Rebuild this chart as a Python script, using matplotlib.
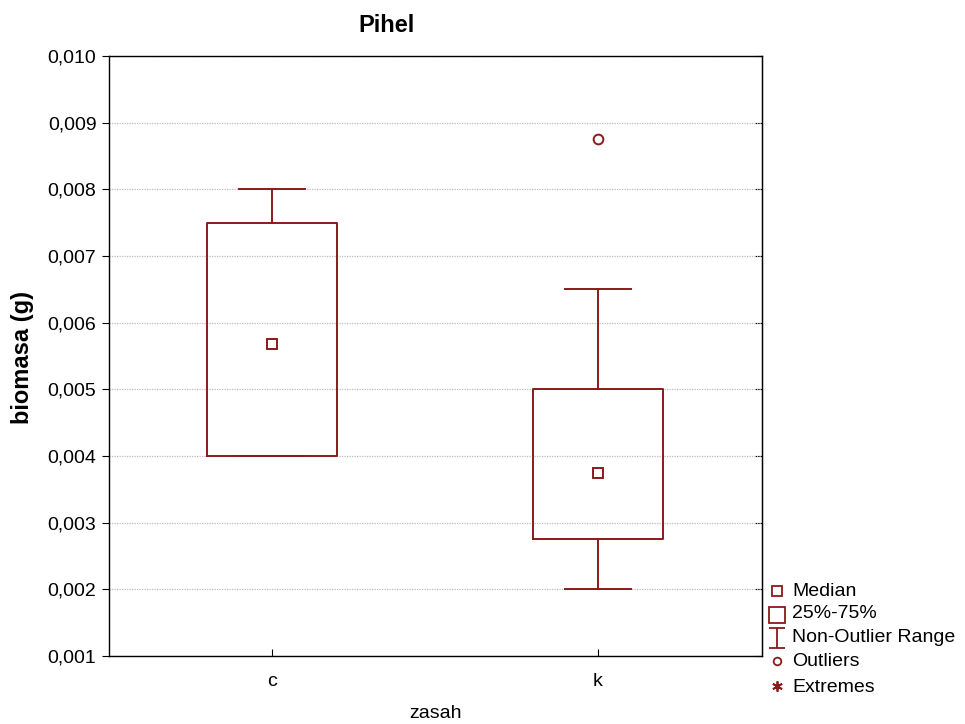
import matplotlib
matplotlib.use("Agg")
import matplotlib.pyplot as plt
from matplotlib.path import Path
from matplotlib.lines import Line2D
import numpy as np

plt.rcParams['font.family'] = ['Liberation Sans', 'DejaVu Sans']

# ---- data ----
categories = ["c", "k"]
medians = [0.00568, 0.00375]
q1 = [0.0040, 0.00275]
q3 = [0.0075, 0.0050]
whisker_low = [0.0040, 0.0020]
whisker_high = [0.0080, 0.0065]
outliers = [[], [0.00876]]
y_ticks = [0.001, 0.002, 0.003, 0.004, 0.005, 0.006, 0.007, 0.008, 0.009, 0.010]
legend_labels = ["Median", "25%-75%", "Non-Outlier Range", "Outliers", "Extremes"]

title = "Pihel"
xlabel = "zasah"
ylabel = "biomasa (g)"

col = "#8b1a1a"

fig = plt.figure(figsize=(9.65, 7.24), dpi=100)
W, H = 965, 724
L, R, T, B = 109, 762, 56, 656
ax = fig.add_axes([L / W, (H - B) / H, (R - L) / W, (B - T) / H])

stats = []
for i in range(len(categories)):
    stats.append(dict(med=medians[i], q1=q1[i], q3=q3[i],
                      whislo=whisker_low[i], whishi=whisker_high[i],
                      mean=medians[i], fliers=outliers[i], label=categories[i]))

pos = np.arange(len(categories))
ax.bxp(stats, positions=pos, widths=0.4, capwidths=0.2, showmeans=True,
       boxprops=dict(color=col, linewidth=1.4),
       whiskerprops=dict(color=col, linewidth=1.4),
       capprops=dict(color=col, linewidth=1.4),
       medianprops=dict(visible=False),
       meanprops=dict(marker='s', markersize=7, markerfacecolor='white',
                      markeredgecolor=col, markeredgewidth=1.4, linestyle='none'),
       flierprops=dict(marker='o', markersize=7, markerfacecolor='white',
                       markeredgecolor=col, markeredgewidth=1.4, linestyle='none'),
       zorder=3)

ax.set_xlim(-0.5, 1.503)
ax.set_ylim(y_ticks[0], y_ticks[-1])
ax.set_yticks(y_ticks)
ax.set_yticklabels([f"{v:.3f}".replace('.', ',') for v in y_ticks])
ax.set_xticks(pos)
ax.set_xticklabels(categories)
ax.tick_params(axis='y', direction='out', length=5, labelsize=14, pad=4)
ax.tick_params(axis='x', direction='in', length=5, labelsize=14, pad=12)
ax.yaxis.grid(True, linestyle=(0, (1, 1)), color='#bdbdbd', linewidth=0.9, zorder=0)
ax.set_axisbelow(True)
for s in ax.spines.values():
    s.set_linewidth(1.0)

# secondary right ticks pointing inward
axr = ax.secondary_yaxis('right')
axr.set_yticks(y_ticks)
axr.tick_params(direction='in', length=5, labelright=False)

fig.text(387 / W, 1 - 25 / H, title, fontsize=17, fontweight='bold',
         ha='center', va='center')
fig.text(436 / W, 1 - 713 / H, xlabel, fontsize=14, ha='center', va='center')
fig.text(22 / W, 1 - 358 / H, ylabel, fontsize=17, fontweight='bold',
         ha='center', va='center', rotation=90)

# ---- legend (manual, figure coords) ----
ibeam = Path([(-0.4, 0.5), (0.4, 0.5), (0, 0.5), (0, -0.5), (-0.4, -0.5), (0.4, -0.5)],
             [Path.MOVETO, Path.LINETO, Path.MOVETO, Path.LINETO, Path.MOVETO, Path.LINETO])
handles = [
    dict(marker='s', ms=6.5, mfc='white', y=591),
    dict(marker='s', ms=11, mfc='white', y=615),
    dict(marker=ibeam, ms=14.5, mfc='none', y=638),
    dict(marker='o', ms=5.5, mfc='white', y=661),
    dict(marker=(6, 2, 0), ms=7.5, mfc='none', y=686),
]
rows_y = [591, 613, 637, 662, 687]
for lab, h, yy in zip(legend_labels, handles, rows_y):
    fig.add_artist(Line2D([777 / W], [1 - h['y'] / H], transform=fig.transFigure,
                          marker=h['marker'], markersize=h['ms'],
                          markerfacecolor=h['mfc'], markeredgecolor=col,
                          markeredgewidth=1.3, linestyle='none'))
    fig.text(792 / W, 1 - yy / H, lab, fontsize=14, va='center', ha='left')

fig.savefig("out.png", dpi=100)
